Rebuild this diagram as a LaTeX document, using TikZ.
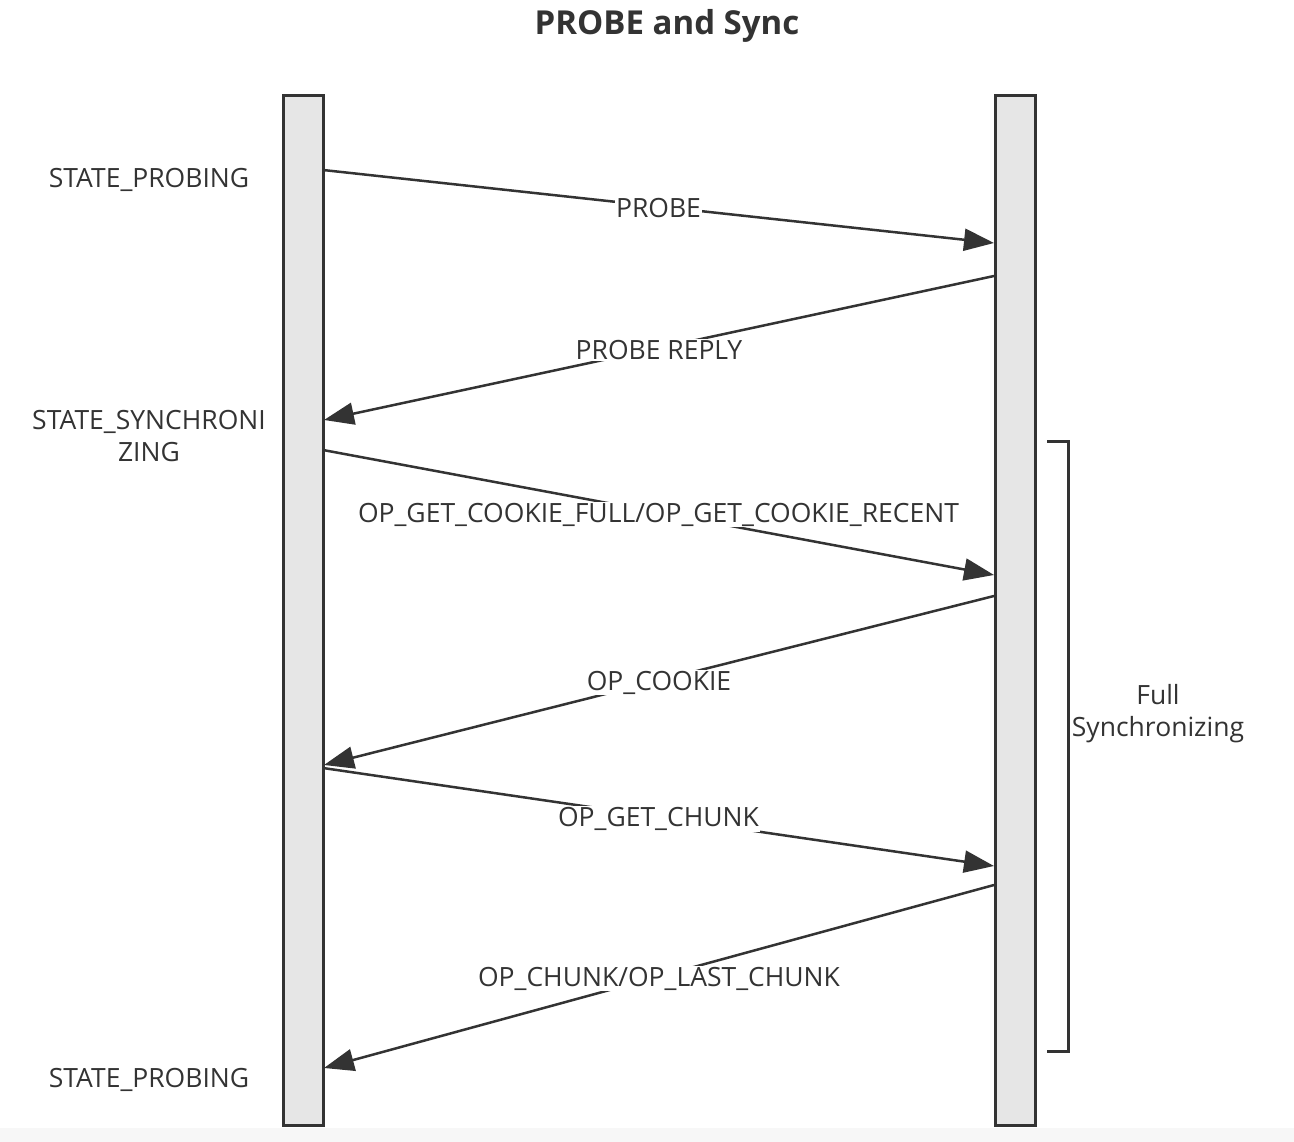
\documentclass[tikz,border=0pt]{standalone}
\usepackage{fontspec}
\setmainfont{Open Sans}
\usetikzlibrary{arrows.meta}
\definecolor{ink}{HTML}{333333}
\definecolor{barfill}{HTML}{E6E6E6}
\begin{document}
\begin{tikzpicture}[x=1pt,y=-1pt,
  lifeline/.style={draw=ink,fill=barfill,line width=3pt},
  msg/.style={draw=ink,line width=2.5pt,-{Triangle[length=30pt,width=22pt]}},
  msglabel/.style={fill=white,inner sep=1pt,font=\fontsize{26.5}{30}\selectfont,text=ink,yshift=-2pt},
  state/.style={font=\fontsize{26.5}{32}\selectfont,text=ink,align=center},
  bracketline/.style={draw=ink,line width=3pt}]
\useasboundingbox (0,0) rectangle (1294,1142);
\fill[white] (0,0) rectangle (1294,1128);
\fill[black!3] (0,1128) rectangle (1294,1142);
\node[font=\bfseries\fontsize{33}{36}\selectfont,text=ink] (title) at (667,26) {PROBE and Sync};
\node[lifeline,minimum width=40pt,minimum height=1029pt,inner sep=0pt] (A) at (303,610.5) {};
\node[lifeline,minimum width=40pt,minimum height=1029pt,inner sep=0pt] (B) at (1015,610.5) {};
% anchor coordinates
\coordinate (a1) at (323,170);  \coordinate (b1) at (994,243);
\coordinate (b2) at (994,276);  \coordinate (a2) at (324,420);
\coordinate (a3) at (323,450);  \coordinate (b3) at (994,575);
\coordinate (b4) at (994,596);  \coordinate (a4) at (324,765);
\coordinate (a5) at (323,768);  \coordinate (b5) at (994,866);
\coordinate (b6) at (994,885);  \coordinate (a6) at (324,1068);
\draw[msg] (a1) -- node[msglabel,pos=0.5] (l1) {PROBE} (b1);
\draw[msg] (b2) -- node[msglabel,pos=0.5] (l2) {PROBE REPLY} (a2);
\draw[msg] (a3) -- node[msglabel,pos=0.5] (l3) {OP\_GET\_COOKIE\_FULL/OP\_GET\_COOKIE\_RECENT} (b3);
\draw[msg] (b4) -- node[msglabel,pos=0.5] (l4) {OP\_COOKIE} (a4);
\draw[msg] (a5) -- node[msglabel,pos=0.5] (l5) {OP\_GET\_CHUNK} (b5);
\draw[msg] (b6) -- node[msglabel,pos=0.5] (l6) {OP\_CHUNK/OP\_LAST\_CHUNK} (a6);
% states
\node[state] (s1) at (149,180) {STATE\_PROBING};
\node[state] (s2) at (149,436) {STATE\_SYNCHRONI\\ZING};
\node[state] (s3) at (149,1080) {STATE\_PROBING};
% bracket
\coordinate (k1) at (1047,441); \coordinate (k2) at (1047,1051);
\draw[bracketline] (k1) -- (1068,441) -- (1068,1051) -- (k2);
\node[state] (full) at (1158,714) {Full\\Synchronizing};
\end{tikzpicture}
\end{document}
